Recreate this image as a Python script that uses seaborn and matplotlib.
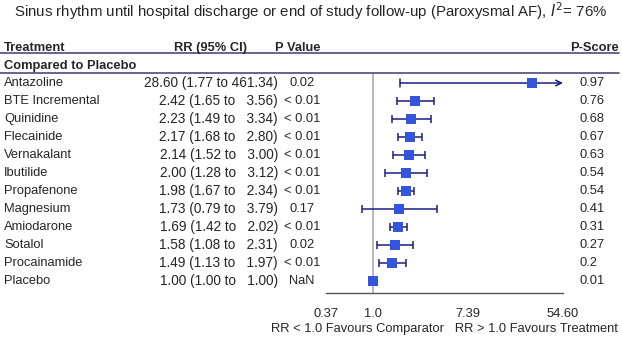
import numpy as np
import pandas as pd
import seaborn as sns
import matplotlib.pyplot as plt
import matplotlib.transforms as mtransforms

sns.set_style("white")
plt.rcParams['font.family'] = ['Liberation Sans', 'DejaVu Sans']

treatments = ["Antazoline", "BTE Incremental", "Quinidine", "Flecainide", "Vernakalant",
              "Ibutilide", "Propafenone", "Magnesium", "Amiodarone", "Sotalol",
              "Procainamide", "Placebo"]
rr = [28.60, 2.42, 2.23, 2.17, 2.14, 2.00, 1.98, 1.73, 1.69, 1.58, 1.49, 1.00]
rr_lo = [1.77, 1.65, 1.49, 1.68, 1.52, 1.28, 1.67, 0.79, 1.42, 1.08, 1.13, 1.00]
rr_hi = [461.34, 3.56, 3.34, 2.80, 3.00, 3.12, 2.34, 3.79, 2.02, 2.31, 1.97, 1.00]
p_values = ["0.02", "< 0.01", "< 0.01", "< 0.01", "< 0.01", "< 0.01", "< 0.01",
            "0.17", "< 0.01", "0.02", "< 0.01", "NaN"]
p_scores = ["0.97", "0.76", "0.68", "0.67", "0.63", "0.54", "0.54", "0.41",
            "0.31", "0.27", "0.2", "0.01"]
tick_vals = [np.exp(-1), 1.0, np.exp(2), np.exp(4)]
tick_labels = ["0.37", "1.0", "7.39", "54.60"]

df = pd.DataFrame({'treatment': treatments, 'rr': rr, 'lo': rr_lo, 'hi': rr_hi,
                   'p': p_values, 'ps': p_scores})
df['row'] = np.arange(len(df))

W, H = 622, 337
fig = plt.figure(figsize=(W / 100, H / 100), dpi=100)
# axes: x from 326px to 563px, y from 73px to 293px (from top)
ax = fig.add_axes([326 / W, (H - 293) / H, (563 - 326) / W, (293 - 73) / H])
xmin, xmax = np.exp(-1), np.exp(4)
ax.set_xscale('log')
ax.set_xlim(xmin, xmax)
ax.set_ylim(11.667, -0.556)

navy = '#1c1c80'
blue = '#3355dd'
rule = '#4a4a7e'

ax.axvline(1.0, color='#b3b3b3', lw=1.3, zorder=0)

# confidence intervals
for _, r in df.iterrows():
    if r['lo'] == r['hi']:
        continue
    hi_clip = min(r['hi'], xmax)
    if r['hi'] > xmax:
        ax.annotate('', xy=(xmax, r['row']), xytext=(r['lo'], r['row']),
                    arrowprops=dict(arrowstyle='->', color=navy, lw=1.1,
                                    shrinkA=0, shrinkB=0, mutation_scale=10))
        ax.plot([r['lo'], r['lo']], [r['row'] - 0.22, r['row'] + 0.22], color=navy, lw=1.1)
    else:
        ax.errorbar([r['rr']], [r['row']],
                    xerr=[[r['rr'] - r['lo']], [hi_clip - r['rr']]],
                    fmt='none', ecolor=navy, elinewidth=1.1, capsize=2.9, capthick=1.1)

sns.scatterplot(data=df, x='rr', y='row', marker='s', color=blue, s=42,
                edgecolor=blue, linewidth=0, zorder=3, ax=ax, legend=False)

fs = 9.3
for s in ['top', 'left', 'right']:
    ax.spines[s].set_visible(False)
ax.spines['bottom'].set_color('#555555')
ax.spines['bottom'].set_linewidth(1.0)
ax.set_yticks([])
ax.set_xticks(tick_vals)
ax.set_xticklabels(tick_labels)
ax.xaxis.set_minor_locator(plt.NullLocator())
ax.tick_params(axis='x', direction='out', length=4, width=1.0, color='#555555',
               labelsize=fs, pad=6.5)
ax.set_xlabel('RR < 1.0 Favours Comparator   RR > 1.0 Favours Treatment', fontsize=fs)
ax.xaxis.set_label_coords(0.5, -0.138)
ax.set_ylabel('')
ax.patch.set_alpha(0)

trans = mtransforms.blended_transform_factory(fig.transFigure, ax.transData)
for _, r in df.iterrows():
    y = r['row']
    ax.text(4 / W, y, r['treatment'], transform=trans, fontsize=fs, va='center', ha='left')
    ci = f"{r['rr']:.2f} ({r['lo']:.2f} to {r['hi']:6.2f})"
    ax.text(278 / W, y, ci, transform=trans, fontsize=9.8, va='center', ha='right')
    ax.text(302 / W, y, r['p'], transform=trans, fontsize=fs, va='center', ha='center')
    ax.text(579 / W, y, r['ps'], transform=trans, fontsize=fs, va='center', ha='left')

# header
hy = -1.94
ax.text(4 / W, hy, 'Treatment', transform=trans, fontsize=fs, fontweight='bold', va='center')
ax.text(210 / W, hy, 'RR (95% CI)', transform=trans, fontsize=fs, fontweight='bold', va='center', ha='center')
ax.text(298 / W, hy, 'P Value', transform=trans, fontsize=fs, fontweight='bold', va='center', ha='center')
ax.text(619 / W, hy, 'P-Score', transform=trans, fontsize=fs, fontweight='bold', va='center', ha='right')
ax.text(4 / W, -0.96, 'Compared to Placebo', transform=trans, fontsize=fs, fontweight='bold', va='center')
for ly in [-1.667, -0.556]:
    ax.plot([0, 619 / W], [ly, ly], transform=trans, color=rule, lw=1.2, clip_on=False)

fig.text(310.5 / W, 1 - 11 / H,
         r'Sinus rhythm until hospital discharge or end of study follow-up (Paroxysmal AF), $I^2$= 76%',
         fontsize=10.8, ha='center', va='center')

fig.savefig('out.png', dpi=100)
